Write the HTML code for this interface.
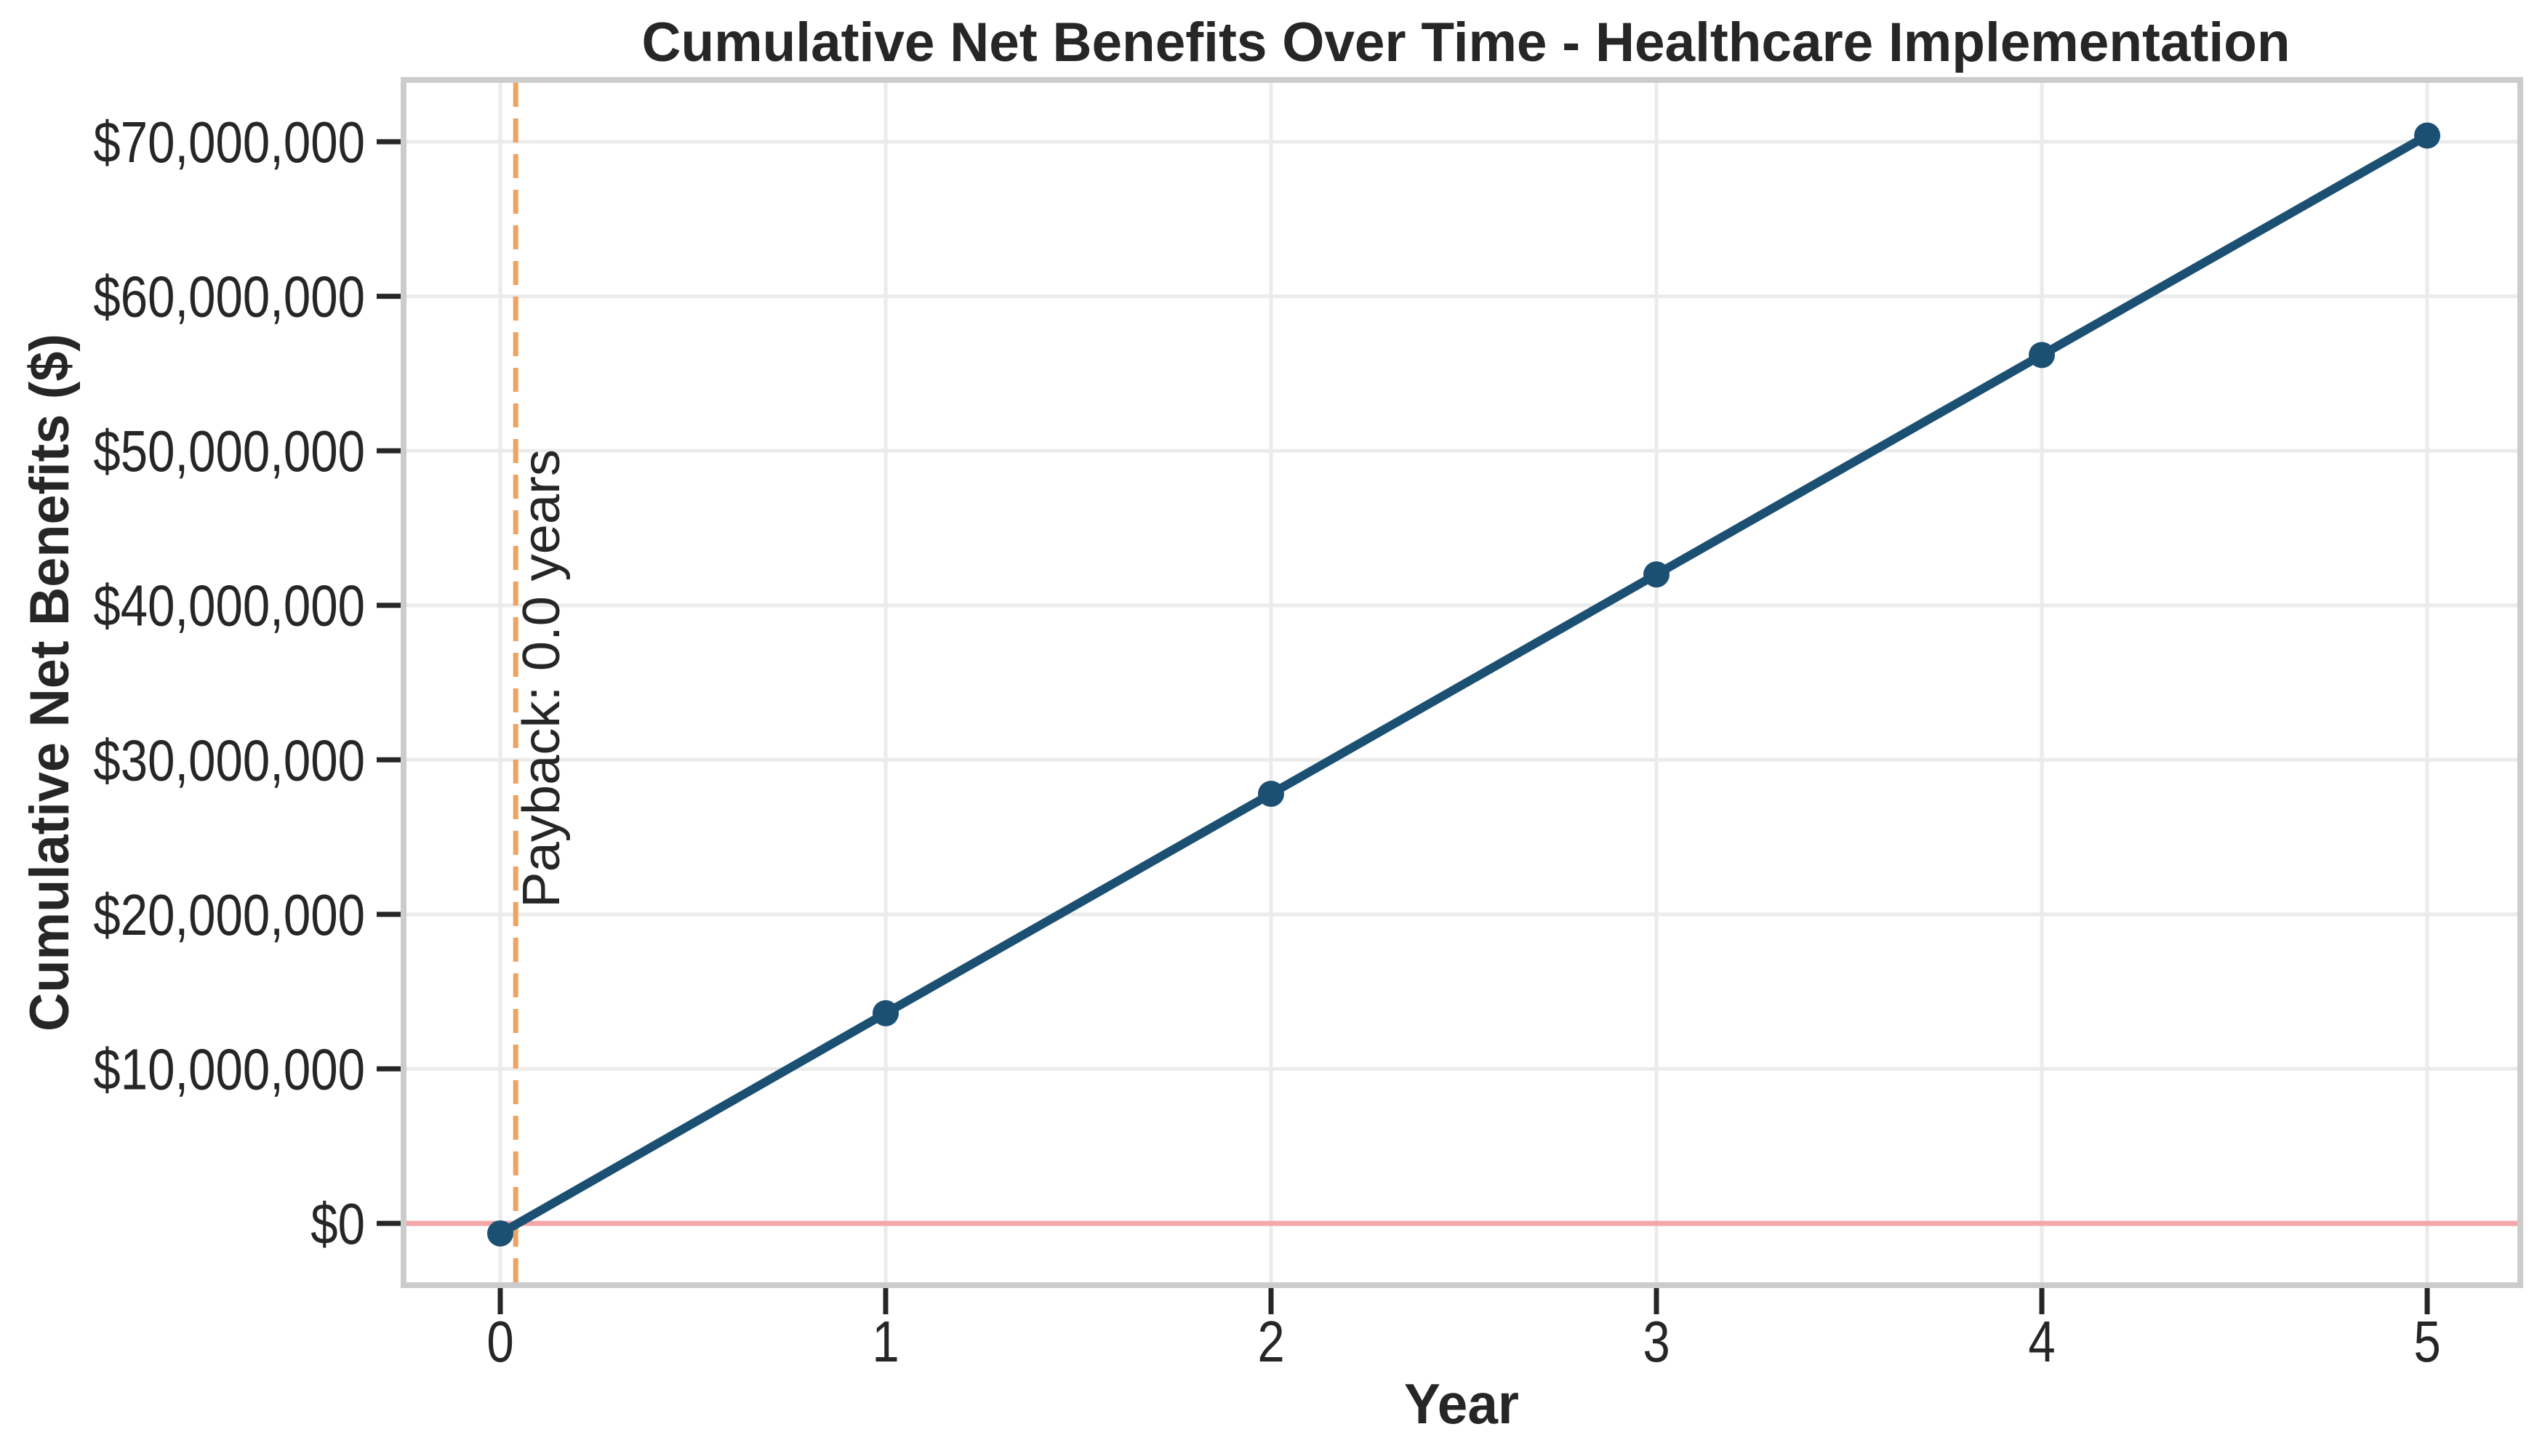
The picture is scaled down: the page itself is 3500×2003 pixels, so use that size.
<!DOCTYPE html>
<html><head><meta charset="utf-8"><style>
html,body{margin:0;padding:0;background:#fff}
svg{display:block;font-family:"Liberation Sans",Arial,sans-serif}
</style></head><body>
<svg id="chart" width="3500" height="2003" viewBox="0 0 3500 2003" xmlns="http://www.w3.org/2000/svg">
<rect x="0" y="0" width="3500" height="2003" fill="#fff"/>
<g id="grid"></g>
<g id="refs"></g>
<g id="series"></g>
<rect x="555" y="110" width="2911" height="1658" fill="none" stroke="#cccccc" stroke-width="8"/>
<g id="axes"></g>
<text x="2016" y="84" text-anchor="middle" font-size="76" font-weight="bold" fill="#262626" textLength="2267" lengthAdjust="spacingAndGlyphs">Cumulative Net Benefits Over Time - Healthcare Implementation</text>
<text x="2010" y="1958" text-anchor="middle" font-size="78" font-weight="bold" fill="#262626" textLength="158" lengthAdjust="spacingAndGlyphs">Year</text>
<text transform="translate(94,939) rotate(-90)" text-anchor="middle" font-size="76" font-weight="bold" fill="#262626" textLength="960" lengthAdjust="spacingAndGlyphs">Cumulative Net Benefits ($)</text>
</svg>
<script>
const years = [0, 1, 2, 3, 4, 5];
const cumulativeNet = [-0.65, 13.6, 27.8, 42.0, 56.2, 70.4]; // millions $
const xTicks = [0, 1, 2, 3, 4, 5];
const yTicks = [0, 10, 20, 30, 40, 50, 60, 70];
const yTickLabels = ["$0","$10,000,000","$20,000,000","$30,000,000","$40,000,000","$50,000,000","$60,000,000","$70,000,000"];
const paybackYears = [0.04];
const paybackLabel = ["Payback: 0.0 years"];

const NS = "http://www.w3.org/2000/svg";
function xs(v){ return 688 + v * 530; }
function ys(v){ return 1683 - v * 21.257; }
function mk(tag, attrs, parent){
  const e = document.createElementNS(NS, tag);
  for (const k in attrs) e.setAttribute(k, attrs[k]);
  parent.appendChild(e);
  return e;
}
const grid = document.getElementById('grid');
const axes = document.getElementById('axes');
const refs = document.getElementById('refs');
const series = document.getElementById('series');

xTicks.forEach(t => {
  const g = mk('line', {x1: xs(t), x2: xs(t), y1: 114, y2: 1764, stroke: '#ebebeb', 'stroke-width': 5}, grid);
  
  
  const tk = mk('line', {x1: xs(t), x2: xs(t), y1: 1772, y2: 1808, stroke: '#262626', 'stroke-width': 7}, axes);
  
  
  const lb = mk('text', {transform: 'translate(' + xs(t) + ',1873) scale(0.84,1)', 'text-anchor': 'middle', 'font-size': 80, fill: '#262626'}, axes);
  lb.textContent = String(t);
  
  
});
yTicks.forEach((t, i) => {
  const g = mk('line', {x1: 559, x2: 3462, y1: ys(t), y2: ys(t), stroke: '#ebebeb', 'stroke-width': 5}, grid);
  
  
  const tk = mk('line', {x1: 518, x2: 551, y1: ys(t), y2: ys(t), stroke: '#262626', 'stroke-width': 7}, axes);
  
  
  const lb = mk('text', {transform: 'translate(502,' + (ys(t) + 28) + ') scale(0.84,1)', 'text-anchor': 'end', 'font-size': 80, fill: '#262626'}, axes);
  lb.textContent = yTickLabels[i];
  
  
});

const zl = mk('line', {x1: 559, x2: 3462, y1: ys(0), y2: ys(0), stroke: '#f4a6a8', 'stroke-width': 7}, refs);


const pl = mk('line', {x1: xs(paybackYears[0]), x2: xs(paybackYears[0]), y1: 114, y2: 1764, stroke: '#eea360', 'stroke-width': 7, 'stroke-dasharray': '33 16'}, refs);


const pt = mk('text', {transform: 'translate(' + (xs(paybackYears[0]) + 60) + ',1249) rotate(-90)', 'font-size': 72, fill: '#262626', textLength: 631, lengthAdjust: 'spacingAndGlyphs'}, refs);
pt.textContent = paybackLabel[0];



const pts = years.map((y, i) => xs(y) + ',' + ys(cumulativeNet[i])).join(' ');
const ln = mk('polyline', {points: pts, fill: 'none', stroke: '#1b5073', 'stroke-width': 12, 'stroke-linejoin': 'round'}, series);


years.forEach((y, i) => {
  const c = mk('circle', {cx: xs(y), cy: ys(cumulativeNet[i]), r: 18, fill: '#1b5073'}, series);
  
  
});
</script>
</body></html>
